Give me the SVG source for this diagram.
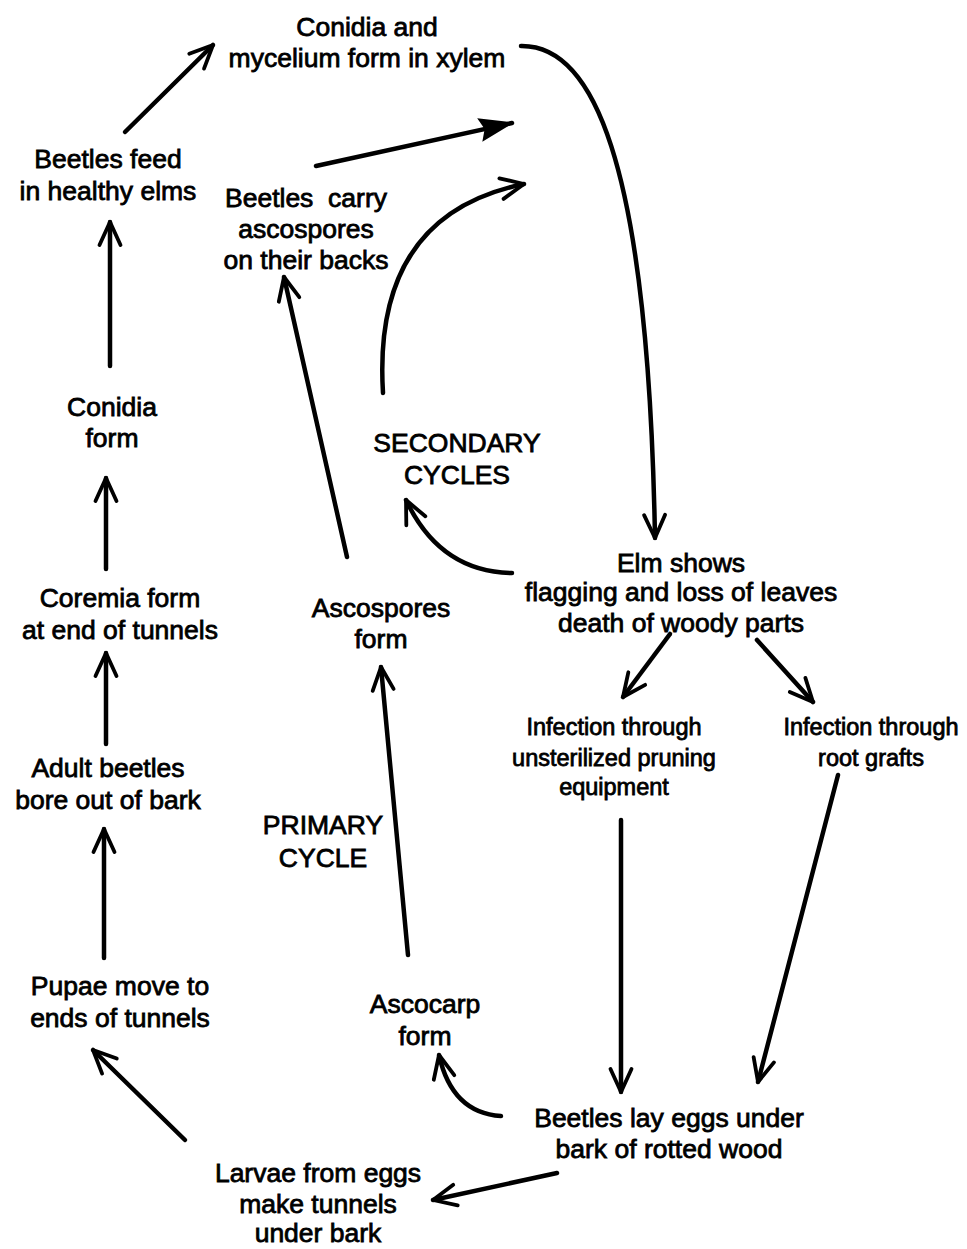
<svg xmlns="http://www.w3.org/2000/svg" width="967" height="1249" viewBox="0 0 967 1249">
<style>
text{font-family:"Liberation Sans",Arial,Helvetica,sans-serif;fill:#000;stroke:#000;stroke-width:0.8;text-anchor:middle}
.m{font-size:26.5px}
.s{font-size:23.5px}
.c line,.c path{fill:none;stroke:#000;stroke-width:4.5;stroke-linecap:round}
.v{marker-end:url(#v)}
.b{marker-end:url(#b)}
</style>
<defs>
<marker id="v" markerUnits="userSpaceOnUse" markerWidth="60" markerHeight="60" viewBox="-30 -30 60 60" refX="0" refY="0" orient="auto">
<path d="M-23,-10.5 L0,0 L-23,10.5" fill="none" stroke="#000" stroke-width="3.8" stroke-linejoin="round" stroke-linecap="round"/>
</marker>
<marker id="b" markerUnits="userSpaceOnUse" markerWidth="80" markerHeight="80" viewBox="-40 -40 80 80" refX="0" refY="0" orient="auto">
<path d="M2,0 L-33,-12 L-28,0 L-33,12 Z" fill="#000"/>
</marker>
</defs>
<rect width="967" height="1249" fill="#fff"/>
<g id="connectors" class="c">
<line class="v" x1="125" y1="132" x2="213" y2="45"/>
<line class="b" x1="316" y1="166" x2="512" y2="123"/>
<path class="v" d="M383,393 Q372,215 524,184"/>
<path class="v" d="M521,46 C590,45 648,150 655,538"/>
<path class="v" d="M512,573 Q440,572 406,500"/>
<line class="v" x1="347" y1="557" x2="284" y2="277"/>
<line class="v" x1="110" y1="366" x2="110" y2="222"/>
<line class="v" x1="106" y1="569" x2="106" y2="478"/>
<line class="v" x1="106" y1="744" x2="106" y2="653"/>
<line class="v" x1="104" y1="958" x2="104" y2="829"/>
<line class="v" x1="185" y1="1140" x2="93" y2="1050"/>
<line class="v" x1="408" y1="955" x2="381" y2="667"/>
<path class="v" d="M501,1116 Q452,1113 439,1055"/>
<line class="v" x1="557" y1="1173" x2="433" y2="1200"/>
<line class="v" x1="670" y1="634" x2="623" y2="697"/>
<line class="v" x1="757" y1="640" x2="813" y2="702"/>
<line class="v" x1="621" y1="820" x2="621" y2="1092"/>
<line class="v" x1="838" y1="775" x2="758" y2="1082"/>
</g>
<g id="n-xylem"><text class="m" x="367" y="36">Conidia and</text><text class="m" x="367" y="67">mycelium form in xylem</text></g>
<g id="n-feed"><text class="m" x="108" y="168">Beetles feed</text><text class="m" x="108" y="200">in healthy elms</text></g>
<g id="n-carry"><text class="m" x="306" y="207" xml:space="preserve">Beetles  carry</text><text class="m" x="306" y="238">ascospores</text><text class="m" x="306" y="269">on their backs</text></g>
<g id="n-conidia"><text class="m" x="112" y="416">Conidia</text><text class="m" x="112" y="447">form</text></g>
<g id="n-secondary"><text class="m" x="457" y="452">SECONDARY</text><text class="m" x="457" y="484">CYCLES</text></g>
<g id="n-elm"><text class="m" x="681" y="572">Elm shows</text><text class="m" x="681" y="601">flagging and loss of leaves</text><text class="m" x="681" y="632">death of woody parts</text></g>
<g id="n-coremia"><text class="m" x="120" y="607">Coremia form</text><text class="m" x="120" y="639">at end of tunnels</text></g>
<g id="n-ascospores"><text class="m" x="381" y="617">Ascospores</text><text class="m" x="381" y="648">form</text></g>
<g id="n-pruning"><text class="s" x="614" y="735">Infection through</text><text class="s" x="614" y="766">unsterilized pruning</text><text class="s" x="614" y="795">equipment</text></g>
<g id="n-root"><text class="s" x="871" y="735">Infection through</text><text class="s" x="871" y="766">root grafts</text></g>
<g id="n-adult"><text class="m" x="108" y="777">Adult beetles</text><text class="m" x="108" y="809">bore out of bark</text></g>
<g id="n-primary"><text class="m" x="323" y="834">PRIMARY</text><text class="m" x="323" y="867">CYCLE</text></g>
<g id="n-pupae"><text class="m" x="120" y="995">Pupae move to</text><text class="m" x="120" y="1027">ends of tunnels</text></g>
<g id="n-ascocarp"><text class="m" x="425" y="1013">Ascocarp</text><text class="m" x="425" y="1045">form</text></g>
<g id="n-eggs"><text class="m" x="669" y="1127">Beetles lay eggs under</text><text class="m" x="669" y="1158">bark of rotted wood</text></g>
<g id="n-larvae"><text class="m" x="318" y="1182">Larvae from eggs</text><text class="m" x="318" y="1213">make tunnels</text><text class="m" x="318" y="1242">under bark</text></g>
</svg>
